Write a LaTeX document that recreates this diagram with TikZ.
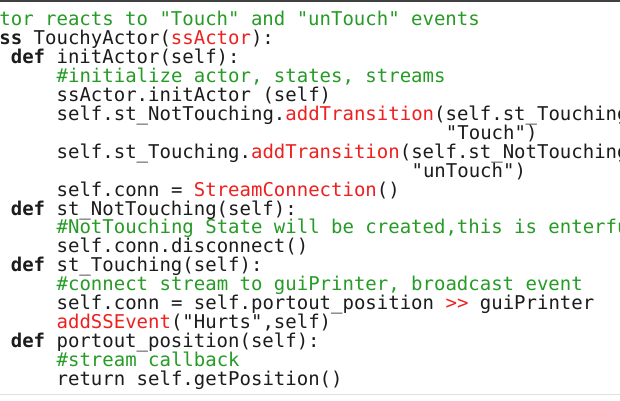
\documentclass[tikz,border=0pt]{standalone}
\usepackage{fontspec}
\newfontfamily\codefont{DejaVu Sans Mono}
\definecolor{cgreen}{RGB}{38,155,38}
\definecolor{cred}{RGB}{238,32,32}
\definecolor{ctext}{RGB}{28,28,28}
\newcommand{\kw}[1]{{\bfseries #1}}
\newcommand{\cm}[1]{\textcolor{cgreen}{#1}}
\newcommand{\rd}[1]{\textcolor{cred}{#1}}
\tikzset{
  codeline/.style={anchor=base west, inner sep=0pt, outer sep=0pt, text=ctext, font=\codefont\fontsize{19pt}{19pt}\selectfont},
}
\newcommand{\cw}{11.45}
\newcommand{\xo}{-0.6}
\begin{document}
\begin{tikzpicture}[x=1pt,y=1pt]
\useasboundingbox (0,0) rectangle (620,400);
\fill[white] (0,0) rectangle (620,400);
\begin{scope}
\clip (0,0) rectangle (620,400);
% line i baseline at 400 - (26 + 18.9*(i-1))
\node[codeline] (l1)  at ({\xo+0*\cw},{400-26.0}) {\cm{tor reacts to "Touch" and "unTouch" events}};
\node[codeline] (l2)  at ({\xo+0*\cw},{400-44.9}) {\kw{ss} TouchyActor(\rd{ssActor}):};
\node[codeline] (l3)  at ({\xo+1*\cw},{400-63.8}) {\kw{def} initActor(self):};
\node[codeline] (l4)  at ({\xo+5*\cw},{400-82.7}) {\cm{\#initialize actor, states, streams}};
\node[codeline] (l5)  at ({\xo+5*\cw},{400-101.6}) {ssActor.initActor (self)};
\node[codeline] (l6)  at ({\xo+5*\cw},{400-120.5}) {self.st\_NotTouching.\rd{addTransition}(self.st\_Touching,};
\node[codeline] (l7)  at ({\xo+39*\cw},{400-139.4}) {"Touch")};
\node[codeline] (l8)  at ({\xo+5*\cw},{400-158.3}) {self.st\_Touching.\rd{addTransition}(self.st\_NotTouching,};
\node[codeline] (l9)  at ({\xo+36*\cw},{400-177.2}) {"unTouch")};
\node[codeline] (l10) at ({\xo+5*\cw},{400-196.1}) {self.conn = \rd{StreamConnection}()};
\node[codeline] (l11) at ({\xo+1*\cw},{400-215.0}) {\kw{def} st\_NotTouching(self):};
\node[codeline] (l12) at ({\xo+5*\cw},{400-233.9}) {\cm{\#NotTouching State will be created,this is enterfu}};
\node[codeline] (l13) at ({\xo+5*\cw},{400-252.8}) {self.conn.disconnect()};
\node[codeline] (l14) at ({\xo+1*\cw},{400-271.7}) {\kw{def} st\_Touching(self):};
\node[codeline] (l15) at ({\xo+5*\cw},{400-290.6}) {\cm{\#connect stream to guiPrinter, broadcast event}};
\node[codeline] (l16) at ({\xo+5*\cw},{400-309.5}) {self.conn = self.portout\_position \rd{>>} guiPrinter};
\node[codeline] (l17) at ({\xo+5*\cw},{400-328.4}) {\rd{addSSEvent}("Hurts",self)};
\node[codeline] (l18) at ({\xo+1*\cw},{400-347.3}) {\kw{def} portout\_position(self):};
\node[codeline] (l19) at ({\xo+5*\cw},{400-366.2}) {\cm{\#stream callback}};
\node[codeline] (l20) at ({\xo+5*\cw},{400-385.1}) {return self.getPosition()};
\fill[black!75] (0,398.2) rectangle (620,400);
\fill[black!12] (0,4.8) rectangle (620,6.3);
\end{scope}
\end{tikzpicture}
\end{document}
